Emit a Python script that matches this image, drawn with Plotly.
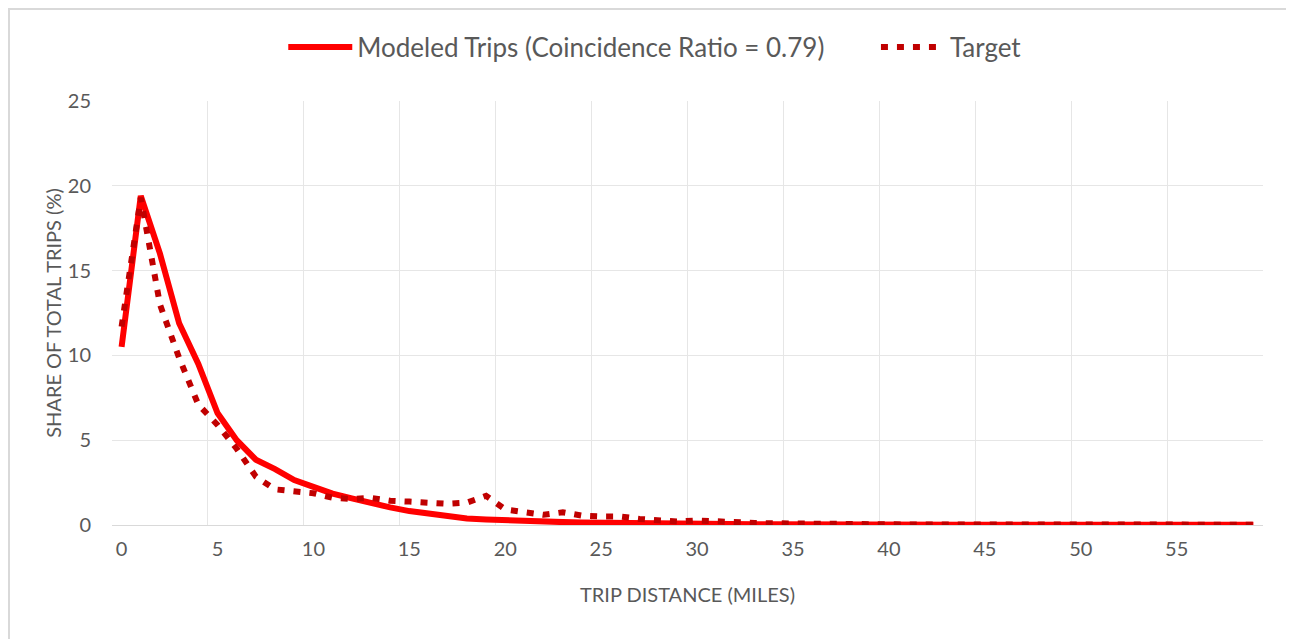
import plotly.graph_objects as go

distance = list(range(60))
modeled = [10.5, 19.4, 16.0, 11.9, 9.5, 6.6, 5.0, 3.85, 3.3, 2.65,
           2.25, 1.85, 1.57, 1.28, 1.04, 0.82, 0.65, 0.51, 0.39, 0.33,
           0.27, 0.23, 0.19, 0.17, 0.15, 0.13, 0.11, 0.10, 0.08, 0.07,
           0.06, 0.05, 0.05, 0.04, 0.04, 0.03, 0.03, 0.03, 0.02, 0.02,
           0.02, 0.02, 0.02, 0.02, 0.02, 0.02, 0.02, 0.02, 0.02, 0.02,
           0.02, 0.02, 0.02, 0.02, 0.02, 0.02, 0.02, 0.02, 0.02, 0.02]
target = [11.7, 19.3, 13.0, 9.85, 7.1, 5.9, 4.5, 2.85, 2.1, 2.0,
          1.87, 1.61, 1.53, 1.6, 1.43, 1.38, 1.3, 1.25, 1.32, 1.72,
          0.92, 0.77, 0.6, 0.75, 0.55, 0.5, 0.5, 0.36, 0.3, 0.2,
          0.27, 0.2, 0.15, 0.12, 0.1, 0.08, 0.08, 0.06, 0.05, 0.05,
          0.04, 0.03, 0.03, 0.03, 0.02, 0.02, 0.02, 0.02, 0.02, 0.02,
          0.02, 0.02, 0.02, 0.02, 0.02, 0.02, 0.02, 0.02, 0.02, 0.02]
x_ticks = [0, 5, 10, 15, 20, 25, 30, 35, 40, 45, 50, 55]
y_ticks = [0, 5, 10, 15, 20, 25]

FONT = "Lato"
TXT = "#595959"
GRID = "#E6E6E6"
PAD = "\u00a0" * 7

fig = go.Figure()
fig.add_trace(go.Scatter(x=distance, y=modeled, mode="lines",
                         name="Modeled Trips (Coincidence Ratio = 0.79)" + PAD,
                         line=dict(color="#FF0000", width=6)))
fig.add_trace(go.Scatter(x=distance, y=target, mode="lines", name="Target",
                         line=dict(color="#C00000", width=6, dash="7px,9px")))

fig.update_layout(
    width=1286, height=631,
    margin=dict(l=104, r=31, t=93, b=114, autoexpand=False),
    paper_bgcolor="white", plot_bgcolor="white",
    font=dict(family=FONT, color=TXT, size=20),
    legend=dict(orientation="h", x=0.472, y=1.127, xanchor="center", yanchor="middle",
                font=dict(size=26, color=TXT), itemwidth=64),
    xaxis=dict(range=[-0.5, 59.5], tickmode="array", tickvals=x_ticks, automargin=False,
               showgrid=False, zeroline=False, showline=True, linecolor="#D9D9D9",
               linewidth=1, ticks="", ticklabelstandoff=6, tickfont=dict(size=20, color=TXT),
               minor=dict(tick0=-0.5, dtick=5, showgrid=True, gridcolor=GRID, gridwidth=1),
               title=dict(text="TRIP DISTANCE (MILES)", font=dict(size=20, color=TXT), standoff=28)),
    yaxis=dict(range=[0, 25], tickmode="array", tickvals=y_ticks, automargin=False,
               showgrid=True, gridcolor=GRID, zeroline=False, showline=False,
               ticks="", ticklabelstandoff=20, tickfont=dict(size=20, color=TXT),
               title=dict(text="SHARE OF TOTAL TRIPS (%)", font=dict(size=20, color=TXT), standoff=0)),
    showlegend=True,
)

fig.add_shape(type="rect", xref="paper", yref="paper",
              x0=(9 - 112) / 1151, x1=(1291 - 112) / 1151,
              y0=(525 - 660) / 424, y1=(525 - 9) / 424,
              line=dict(color="#D9D9D9", width=2), fillcolor="rgba(0,0,0,0)", layer="below")

fig.write_html("out.html")
